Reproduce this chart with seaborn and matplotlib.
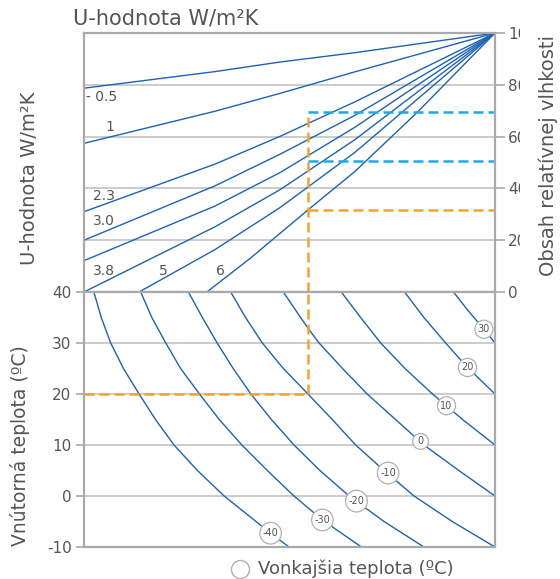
"""
Condensation nomogram: U-value curves (top) and indoor/outdoor temperature curves (bottom)
"""

## Import packages
import pandas as pd
import matplotlib
matplotlib.use('Agg')
import matplotlib.pyplot as plt
import seaborn as sns
from matplotlib.transforms import Bbox


## Data
# Top panel: U-value curves, position on the shared x scale (0-100) and relative humidity [%]
u_labels = ['0.5', '1', '2.3', '3.0', '', '3.8', '5', '6']
u_x = [[0, 31.9, 47.7, 65.9, 100],
       [0, 31.9, 47.7, 65.9, 100],
       [0, 31.9, 47.7, 65.9, 100],
       [0, 31.9, 47.7, 65.9, 100],
       [0, 31.9, 47.7, 65.9, 100],
       [0, 31.9, 47.7, 65.9, 100],
       [13.4, 31.9, 47.7, 65.9, 100],
       [29.9, 40.6, 54.5, 65.9, 81.1, 100]]
u_rh = [[78.7, 85.1, 88.8, 92.4, 100],
        [57.4, 69.8, 76.7, 85.0, 100],
        [31.0, 49.4, 60.1, 73.4, 100],
        [20.0, 41.0, 53.2, 68.2, 100],
        [12.1, 33.2, 46.1, 63.6, 100],
        [0, 25.2, 39.5, 58.8, 100],
        [0, 16.4, 32.6, 53.9, 100],
        [0, 13.2, 31.7, 46.5, 69.4, 100]]

# Bottom panel: outdoor temperature curves, position and indoor temperature [°C]
t_out = ['-40', '-30', '-20', '-10', '0', '10', '20', '30']
t_x = [[2.4, 4.2, 6.5, 9.6, 13.4, 17.4, 21.9, 27.6, 34.1, 45.4, 49.9],
       [13.8, 16.5, 19.9, 23.5, 28.1, 32.9, 38.4, 44.6, 51.1, 58.0, 67.5],
       [25.4, 28.8, 32.4, 36.3, 40.6, 45.6, 51.1, 57.4, 64.5, 73.0, 82.7],
       [35.7, 39.3, 43.4, 48.5, 54.5, 60.4, 66.1, 73.0, 80.3, 89.6, 100],
       [48.5, 52.7, 54.5, 57.2, 62.9, 68.9, 75.8, 82.7, 91.2, 100],
       [62.6, 67.3, 72.2, 78.1, 84.8, 92.1, 100],
       [78.0, 82.7, 88.0, 93.3, 100],
       [89.9, 93.3, 97.3, 100]]
t_in = [[40, 35, 30, 25, 20, 15, 10, 5, 0, -7.3, -10],
        [40, 35, 30, 25, 20, 15, 10, 5, 0, -4.7, -10],
        [40, 35, 30, 25, 20, 15, 10, 5, 0, -5, -10],
        [40, 35, 30, 25, 20, 15, 10, 5, 0, -5, -10],
        [40, 35, 32.9, 30, 25, 20, 15, 10, 5, 0],
        [40, 35, 30, 25, 20, 15, 10],
        [40, 35, 30, 25.2, 20],
        [40, 36.5, 32.7, 30]]

# Worked example (indoor 20 °C, outdoor -10 °C)
ex_x = 54.5
ex_t = 20
ex_rh_orange = 31.7
ex_rh_blue = [69.4, 50.5]

# Axis ticks
rh_ticks = [0, 20, 40, 60, 80, 100]
rh_ticklabels = ['0', '20', '40', '60', '80', '100']
t_ticks = [-10, 0, 10, 20, 30, 40]
t_ticklabels = ['-10', '0', '10', '20', '30', '40']


## Restructure to long format
df_top = pd.concat([pd.DataFrame({'x': xs, 'rh': ys, 'curve': i})
                    for i, (xs, ys) in enumerate(zip(u_x, u_rh))], ignore_index=True)
df_bot = pd.concat([pd.DataFrame({'x': xs, 't': ys, 'curve': i})
                    for i, (xs, ys) in enumerate(zip(t_x, t_in))], ignore_index=True)


## Figure parameters
curve_col = '#1c62b8'
grid_col = '#bdbdbd'
spine_col = '#a9a9a9'
text_col = '#555555'
orange = '#f6a12b'
blue = '#1ea9e6'

sns.set_theme(style='white')
plt.rcParams['font.family'] = ['DejaVu Sans']

fig = plt.figure(figsize=(5.6, 5.79), dpi=100)
ax_top = fig.add_axes([84/560, 1 - 292/579, 411/560, 259/579])
ax_bot = fig.add_axes([84/560, 1 - 547/579, 411/560, 255/579])


## TOP PANEL
sns.lineplot(ax=ax_top, data=df_top, x='x', y='rh', units='curve', estimator=None,
             sort=False, color=curve_col, linewidth=1.0, legend=False)

ax_top.plot([ex_x, ex_x], [0, ex_rh_blue[0]], color=orange, lw=1.8, dashes=(4, 2))
ax_top.plot([ex_x, 100], [ex_rh_orange, ex_rh_orange], color=orange, lw=1.8, dashes=(4, 2))
for rh in ex_rh_blue:
    ax_top.plot([ex_x, 100], [rh, rh], color=blue, lw=1.8, dashes=(4, 2))

ax_top.set_xlim(0, 100)
ax_top.set_ylim(0, 100)
ax_top.set_xticks([])
ax_top.yaxis.tick_right()
ax_top.set_yticks(rh_ticks)
ax_top.set_yticklabels(rh_ticklabels, fontsize=11, color=text_col)
ax_top.tick_params(axis='y', right=True, direction='out', length=7, width=1.2,
                   color=spine_col, pad=2.5)
ax_top.yaxis.grid(True, color=grid_col, lw=1.1)
ax_top.set_xlabel('')
ax_top.set_ylabel('')

# U-value labels
u_lab_x = [0.6, 6.3, 4.9, 4.9, 4.9, 19.3, 33.1]
u_lab_rh = [75.2, 63.6, 37.2, 27.4, 8.3, 8.3, 8.3]
u_lab_txt = ['- 0.5', '1', '2.3', '3.0', '3.8', '5', '6']
for lx, ly, txt in zip(u_lab_x, u_lab_rh, u_lab_txt):
    ax_top.text(lx, ly, txt, fontsize=10, color=text_col,
                ha='left' if txt.startswith('-') else 'center', va='center')


## BOTTOM PANEL
sns.lineplot(ax=ax_bot, data=df_bot, x='x', y='t', units='curve', estimator=None,
             sort=False, color=curve_col, linewidth=1.0, legend=False)

ax_bot.plot([0, ex_x], [ex_t, ex_t], color=orange, lw=1.8, dashes=(4, 2))
ax_bot.plot([ex_x, ex_x], [ex_t, 40], color=orange, lw=1.8, dashes=(4, 2))

ax_bot.set_xlim(0, 100)
ax_bot.set_ylim(-10, 40)
ax_bot.set_xticks([])
ax_bot.set_yticks(t_ticks)
ax_bot.set_yticklabels(t_ticklabels, fontsize=11, color=text_col)
ax_bot.tick_params(axis='y', left=True, direction='out', length=6, width=1.2,
                   color=spine_col, pad=3)
ax_bot.yaxis.grid(True, color=grid_col, lw=1.1)
ax_bot.set_xlabel('')
ax_bot.set_ylabel('')

# Outdoor temperature labels in circles
lab_x = [45.4, 58.0, 66.3, 74.0, 81.9, 88.2, 93.3, 97.3]
lab_t = [-7.3, -4.7, -1.0, 4.5, 10.7, 17.7, 25.2, 32.7]
for lx, ly, txt in zip(lab_x, lab_t, t_out):
    ax_bot.text(lx, ly, txt, fontsize=7, color=text_col, ha='center', va='center',
                bbox=dict(boxstyle='circle,pad=0.3', fc='white', ec='#b0b0b0', lw=0.9))

for ax in [ax_top, ax_bot]:
    for side in ['left', 'right', 'top', 'bottom']:
        ax.spines[side].set_color(spine_col)
        ax.spines[side].set_linewidth(1.6)

# Right tick labels are cut off in the original
clip = Bbox.from_extents(0, 0, 520, 579)
for tick in ax_top.yaxis.get_major_ticks():
    tick.label2.set_clip_box(clip)
    tick.label2.set_clip_on(True)


## Axis titles
fig.text(73/560, 1 - 18/579, 'U-hodnota W/m²K', fontsize=15, color=text_col,
         ha='left', va='center')
fig.text(30/560, 1 - 178/579, 'U-hodnota W/m²K', fontsize=14, color=text_col,
         rotation=90, ha='center', va='center')
fig.text(548/560, 1 - 155/579, 'Obsah relatívnej vlhkosti', fontsize=14, color=text_col,
         rotation=90, ha='center', va='center')
fig.text(20/560, 1 - 446/579, 'Vnútorná teplota (ºC)', fontsize=13.5, color=text_col,
         rotation=90, ha='center', va='center')
fig.add_artist(plt.Line2D([240/560], [1 - 569/579], marker='o', markersize=13,
                          markerfacecolor='white', markeredgecolor='#b0b0b0',
                          markeredgewidth=1.0, transform=fig.transFigure))
fig.text(258/560, 1 - 569/579, 'Vonkajšia teplota (ºC)', fontsize=13, color=text_col,
         ha='left', va='center')

# Save figure
fig.savefig('out.png', dpi=100)
